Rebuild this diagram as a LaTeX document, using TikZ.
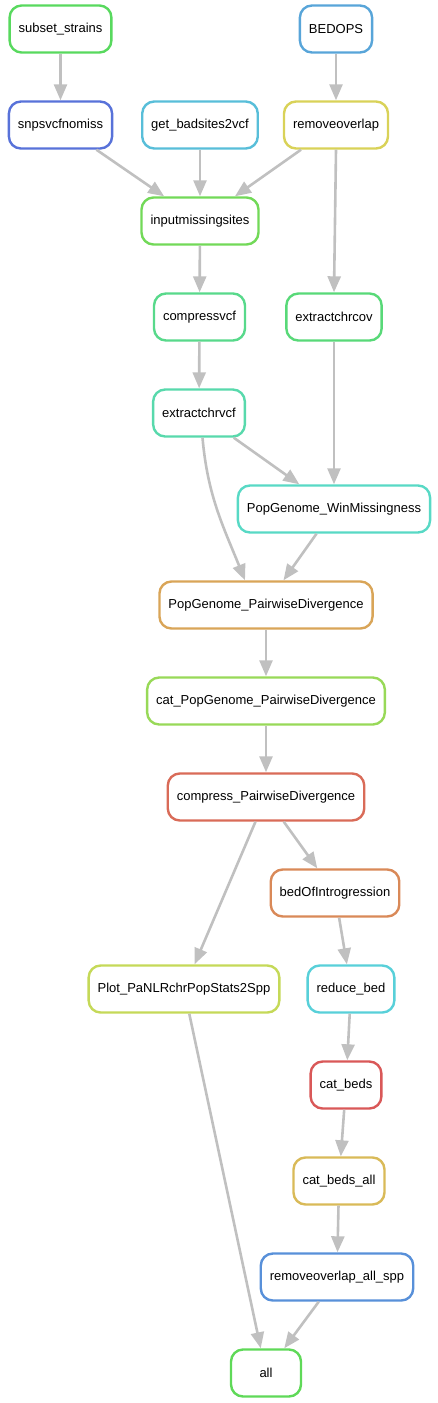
\documentclass[tikz,border=0pt]{standalone}
\usepackage{fontspec}
\setmainfont{Liberation Sans}
\usetikzlibrary{arrows.meta}
\definecolor{edgegray}{RGB}{192,192,192}
\definecolor{cSS}{RGB}{88,217,94}
\definecolor{cBO}{RGB}{88,165,217}
\definecolor{cSN}{RGB}{88,114,217}
\definecolor{cGB}{RGB}{88,190,217}
\definecolor{cRO}{RGB}{217,210,88}
\definecolor{cIM}{RGB}{114,217,88}
\definecolor{cCV}{RGB}{88,217,139}
\definecolor{cEC}{RGB}{88,217,120}
\definecolor{cEV}{RGB}{88,217,172}
\definecolor{cWM}{RGB}{88,217,197}
\definecolor{cPD}{RGB}{217,165,88}
\definecolor{cCP}{RGB}{152,217,88}
\definecolor{cCD}{RGB}{217,107,88}
\definecolor{cBI}{RGB}{217,137,88}
\definecolor{cPL}{RGB}{197,217,88}
\definecolor{cRB}{RGB}{88,208,217}
\definecolor{cCB}{RGB}{217,88,88}
\definecolor{cCA}{RGB}{217,186,88}
\definecolor{cRA}{RGB}{88,144,217}
\definecolor{cAL}{RGB}{95,217,88}
\begin{document}
\begin{tikzpicture}[x=1pt, y=-1pt, font=\fontsize{13}{15}\selectfont, line join=round,
	rule/.style={draw=#1, fill=white, line width=2.4pt, rounded corners=12pt, minimum height=47pt, minimum width=70pt, inner xsep=9pt},
	dep/.style={draw=edgegray, line width=2.6pt, -{Triangle[length=16pt, width=13pt]}}]
	\useasboundingbox (0,0) rectangle (438,1403);
	\node[rule=cSS] (SS) at (60.5,29) {subset\_strains};
	\node[rule=cBO] (BO) at (336,29) {BEDOPS};
	\node[rule=cSN] (SN) at (60.5,125) {snpsvcfnomiss};
	\node[rule=cGB] (GB) at (200,125) {get\_badsites2vcf};
	\node[rule=cRO] (RO) at (336,125) {removeoverlap};
	\node[rule=cIM] (IM) at (200,221) {inputmissingsites};
	\node[rule=cCV] (CV) at (199.5,317) {compressvcf};
	\node[rule=cEC] (EC) at (334,317) {extractchrcov};
	\node[rule=cEV] (EV) at (199,413) {extractchrvcf};
	\node[rule=cWM] (WM) at (334,509) {PopGenome\_WinMissingness};
	\node[rule=cPD] (PD) at (266,605) {PopGenome\_PairwiseDivergence};
	\node[rule=cCP] (CP) at (266,701) {cat\_PopGenome\_PairwiseDivergence};
	\node[rule=cCD] (CD) at (266,797) {compress\_PairwiseDivergence};
	\node[rule=cBI] (BI) at (335,893) {bedOfIntrogression};
	\node[rule=cPL] (PL) at (184,989) {Plot\_PaNLRchrPopStats2Spp};
	\node[rule=cRB] (RB) at (351,989) {reduce\_bed};
	\node[rule=cCB] (CB) at (346,1085) {cat\_beds};
	\node[rule=cCA] (CA) at (339,1181) {cat\_beds\_all};
	\node[rule=cRA] (RA) at (337,1277) {removeoverlap\_all\_spp};
	\node[rule=cAL] (AL) at (266,1373) {all};
	% edges of the workflow
	\draw[dep] (SS) -- (SN);
	\draw[dep] (BO) -- (RO);
	\draw[dep] (SN) -- (IM);
	\draw[dep] (GB) -- (IM);
	\draw[dep] (RO) -- (IM);
	\draw[dep] (RO.south) -- (EC.north);
	\draw[dep] (IM) -- (CV);
	\draw[dep] (CV) -- (EV);
	\draw[dep] (EV) -- (WM);
	\draw[dep] (EC) -- (WM);
	\draw[dep] ([xshift=3.5pt]EV.south) to[out=-85, in=112] ([xshift=-21pt]PD.north);
	\draw[dep] (WM) -- (PD);
	\draw[dep] (PD) -- (CP);
	\draw[dep] (CP) -- (CD);
	\draw[dep] (CD) -- (BI);
	\draw[dep] (CD) -- (PL);
	\draw[dep] (BI) -- (RB);
	\draw[dep] (RB) -- (CB);
	\draw[dep] (CB) -- (CA);
	\draw[dep] (CA) -- (RA);
	\draw[dep] (RA) -- (AL);
	\draw[dep] (PL) -- (AL);
\end{tikzpicture}
\end{document}
